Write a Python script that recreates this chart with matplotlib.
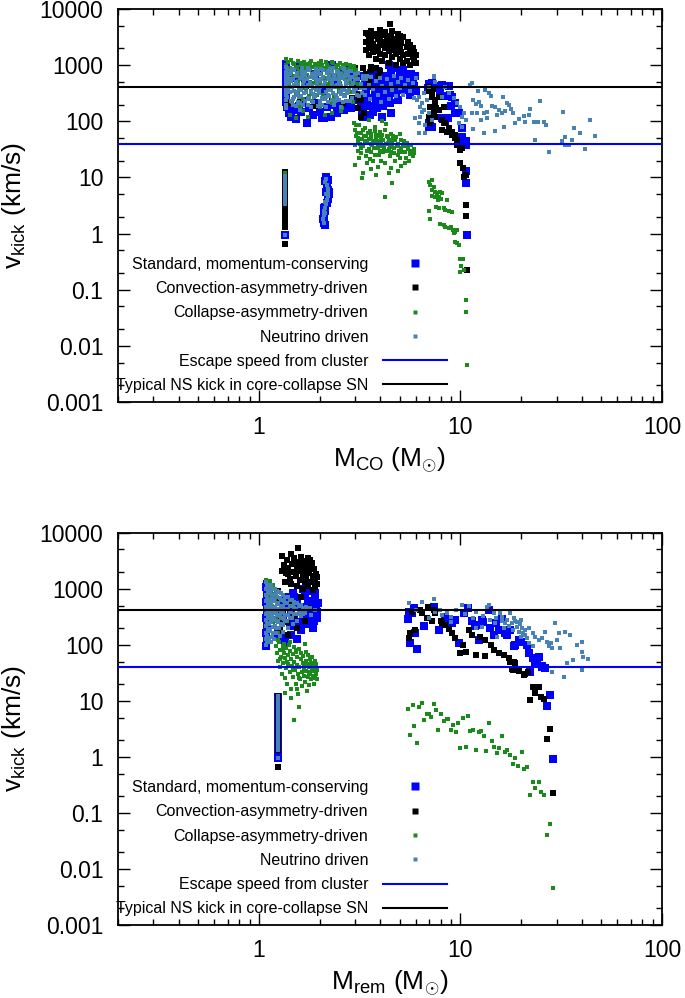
import matplotlib
matplotlib.use('Agg')
import matplotlib.pyplot as plt
from matplotlib.lines import Line2D
from matplotlib.ticker import FixedLocator, LogLocator, NullFormatter, FixedFormatter

plt.rcParams['font.family'] = ['Liberation Sans', 'DejaVu Sans']
plt.rcParams['mathtext.fontset'] = 'custom'
plt.rcParams['mathtext.rm'] = 'Liberation Sans'
plt.rcParams['mathtext.it'] = 'Liberation Sans:italic'
plt.rcParams['mathtext.bf'] = 'Liberation Sans:bold'

# ---------------- data ----------------
series_labels = ["Standard, momentum-conserving", "Convection-asymmetry-driven",
                 "Collapse-asymmetry-driven", "Neutrino driven"]
line_labels = ["Escape speed from cluster", "Typical NS kick in core-collapse SN"]
escape_speed = 40.0
ns_kick = 415.0
x_ticks = [1, 10, 100]
x_ticklabels = ["1", "10", "100"]
y_ticks = [0.001, 0.01, 0.1, 1, 10, 100, 1000, 10000]
y_ticklabels = ["0.001", "0.01", "0.1", "1", "10", "100", "1000", "10000"]

# ---- top panel: x = M_CO, y = v_kick ----
std_co = [
    (2.15, 10.0), (2.12, 8.5), (2.18, 7.0), (2.20, 6.0), (2.22, 5.0), (2.20, 4.2), (2.17, 3.5),
    (2.14, 3.0), (2.12, 2.5), (2.10, 2.1), (2.08, 1.8), (2.10, 1.55), (2.13, 1.40), (2.24, 5.4),
    (2.16, 5.6), (2.10, 2.8), (2.19, 9.0), (1.35, 0.94),
    (1.36, 1050), (1.36, 880), (1.37, 700), (1.36, 520), (1.37, 400), (1.36, 300), (1.37, 220),
    (1.38, 180), (1.41, 140), (1.44, 120), (1.52, 110), (1.50, 160), (1.58, 190), (1.62, 150),
    (1.66, 230), (1.74, 93), (1.78, 170), (1.85, 130), (1.92, 210), (2.00, 150), (2.05, 115),
    (2.11, 115), (2.18, 180), (2.27, 120), (2.34, 200), (2.45, 140), (2.55, 190), (2.63, 160),
    (2.75, 200), (2.85, 170), (2.95, 240), (1.50, 600), (1.70, 450), (1.90, 700), (2.10, 350),
    (2.40, 500), (2.60, 800), (2.80, 650), (1.60, 950), (2.00, 900), (2.30, 1000), (2.70, 950),
    (3.05, 560), (3.10, 420), (3.15, 300), (3.20, 200), (3.25, 150), (3.30, 650), (3.35, 480),
    (3.40, 350), (3.45, 260), (3.50, 190), (3.55, 130), (3.60, 720), (3.65, 560), (3.70, 420),
    (3.75, 310), (3.80, 240), (3.85, 170), (3.90, 800), (3.95, 600), (4.00, 450), (4.05, 340),
    (4.10, 260), (4.15, 190), (4.20, 650), (4.30, 500), (4.35, 380), (4.40, 280), (4.45, 210),
    (4.50, 720), (4.60, 560), (4.70, 420), (4.80, 320), (4.90, 240), (4.95, 600), (5.00, 760),
    (5.10, 470), (5.20, 360), (5.30, 650), (5.40, 520), (5.50, 400), (5.60, 300), (5.70, 700),
    (5.80, 550), (5.90, 430), (6.00, 350), (4.40, 1000), (4.60, 880), (3.30, 120), (4.50, 140),
    (3.70, 150), (5.95, 640), (5.2, 820), (4.1, 120),
    (6.90, 400), (7.00, 470), (7.20, 480), (7.40, 420), (7.90, 340), (8.10, 446), (8.50, 280),
    (8.75, 430), (8.90, 300), (9.00, 190), (9.10, 270), (9.40, 210), (9.40, 140), (9.80, 140),
    (8.70, 114), (8.10, 114), (8.40, 99), (7.20, 81), (6.96, 93), (7.10, 100), (6.96, 80),
    (9.80, 53), (10.2, 75), (10.2, 53), (10.2, 41), (10.6, 44), (10.6, 38),
    (10.7, 12.9), (10.6, 8.0), (10.8, 0.93),
]

conv_co = [
    (1.35, 0.66), (1.35, 1.3), (1.35, 1.45), (1.35, 1.6), (1.35, 1.8), (1.35, 2.0), (1.35, 2.2),
    (1.35, 2.5), (1.35, 2.8), (1.35, 3.1), (1.35, 3.5), (1.35, 3.9), (1.35, 4.4), (1.35, 5.0),
    (1.35, 5.6), (1.35, 6.3), (1.35, 7.0), (1.35, 7.9), (1.35, 8.9), (1.35, 10.0), (1.35, 11.2),
    (1.35, 12.4),
    (1.40, 210), (1.60, 250), (1.90, 190), (2.30, 230), (2.60, 210), (2.90, 260), (3.00, 900),
    (3.05, 600), (3.10, 420), (3.15, 300), (3.20, 240), (3.32, 141), (3.10, 170), (3.13, 240),
    (3.40, 700), (3.50, 500), (3.60, 820), (3.80, 900), (3.20, 120),
    (3.40, 3800), (3.40, 2600), (3.40, 1900), (3.50, 3200), (3.50, 2200), (3.50, 1500),
    (3.60, 4100), (3.60, 2800), (3.60, 2000), (3.70, 2400), (3.70, 1700), (3.70, 3300),
    (3.80, 3600), (3.80, 2100), (3.80, 1300), (3.90, 2900), (3.90, 1800), (4.00, 4300),
    (4.00, 3000), (4.00, 2300), (4.00, 1600), (4.10, 3500), (4.10, 2600), (4.10, 1200),
    (4.20, 3900), (4.20, 2000), (4.20, 1500), (4.30, 3100), (4.30, 2400), (4.46, 5400),
    (4.40, 2800), (4.40, 1800), (4.40, 1100), (4.50, 3400), (4.50, 2200), (4.60, 2600),
    (4.60, 1400), (4.60, 4100), (4.70, 3000), (4.70, 1900), (4.80, 2300), (4.80, 1600),
    (4.80, 1000), (4.90, 2700), (4.90, 3700), (5.00, 2000), (5.00, 1300), (5.00, 3400),
    (5.10, 2500), (5.10, 1700), (5.20, 3200), (5.20, 1500), (5.20, 1100), (5.40, 2100),
    (5.40, 1200), (5.50, 2600), (5.50, 1600), (5.60, 1800), (5.60, 2300), (5.60, 1000),
    (5.80, 2000), (5.80, 1400), (5.90, 1700), (5.90, 1200), (6.00, 1500), (6.00, 1100),
    (3.48, 3700), (3.30, 900), (3.60, 950), (4.0, 800), (3.9, 650),
    (6.96, 417), (7.20, 317), (7.50, 241), (7.10, 183), (7.40, 149), (6.96, 122), (7.10, 92),
    (7.20, 277), (7.50, 211), (7.80, 161), (7.50, 122), (8.10, 106), (8.40, 93), (8.75, 75),
    (9.10, 66), (9.40, 57), (9.60, 47), (10.0, 37), (10.2, 33), (7.60, 170), (7.40, 139),
    (7.80, 277), (8.30, 183), (8.11, 70), (8.60, 66), (9.09, 57), (9.40, 50), (9.60, 38),
    (9.90, 31), (7.00, 350), (7.30, 380),
    (10.0, 17.9), (10.3, 14.6), (10.6, 11.1), (10.4, 10.4), (10.7, 3.2), (10.7, 2.06), (10.8, 0.22),
]

coll_co = [
    (1.35, 4.2), (1.35, 4.8), (1.35, 5.5), (1.35, 6.3), (1.35, 7.2), (1.35, 8.2), (1.35, 9.3),
    (1.35, 10.5), (1.35, 11.8), (1.35, 0.94),
    (1.36, 1300), (1.40, 1150), (1.45, 1250), (1.50, 1050), (1.56, 1200), (1.62, 1000),
    (1.68, 1150), (1.75, 1050), (1.82, 1200), (1.90, 980), (1.98, 1100), (2.06, 1000),
    (2.15, 1150), (2.24, 950), (2.33, 1080), (2.42, 990), (2.52, 1100), (2.62, 950),
    (2.72, 1050), (2.84, 900), (2.95, 980),
    (1.38, 850), (1.44, 760), (1.52, 880), (1.58, 700), (1.66, 820), (1.74, 680), (1.80, 860),
    (1.88, 740), (1.96, 820), (2.04, 700), (2.12, 850), (2.20, 720), (2.30, 800), (2.38, 680),
    (2.48, 840), (2.58, 720), (2.68, 800), (2.78, 700), (2.90, 780), (3.02, 650),
    (1.37, 560), (1.47, 600), (1.57, 520), (1.69, 590), (1.79, 500), (1.91, 580), (2.01, 520),
    (2.14, 600), (2.26, 500), (2.40, 560), (2.53, 490), (2.66, 580), (2.80, 520), (2.98, 480),
    (3.10, 560),
    (1.40, 380), (1.53, 300), (1.64, 400), (1.77, 280), (1.93, 360), (2.08, 290), (2.22, 390),
    (2.37, 270), (2.50, 350), (2.64, 300), (2.85, 330), (3.05, 380), (1.46, 220), (1.60, 190),
    (1.84, 230), (2.02, 180), (2.30, 210), (2.58, 175), (2.92, 220),
    (1.43, 130), (1.52, 115), (1.75, 120), (2.12, 130), (2.30, 140), (2.55, 155), (1.66, 155),
    (1.37, 1000), (1.39, 720), (1.41, 470), (1.43, 900), (1.47, 1100), (1.49, 650), (1.51, 420),
    (1.54, 950), (1.56, 330), (1.59, 780), (1.61, 1080), (1.63, 560), (1.65, 250), (1.67, 960),
    (1.71, 400), (1.73, 870), (1.76, 620), (1.79, 1120), (1.81, 350), (1.83, 930), (1.86, 480),
    (1.89, 1060), (1.92, 640), (1.94, 300), (1.97, 940), (2.00, 440), (2.03, 1180), (2.07, 600),
    (2.10, 900), (2.13, 250), (2.17, 1020), (2.19, 470), (2.23, 800), (2.27, 640), (2.31, 1150),
    (2.35, 430), (2.39, 900), (2.43, 560), (2.46, 1020), (2.51, 400), (2.56, 880), (2.60, 620),
    (2.65, 1000), (2.69, 420), (2.74, 860), (2.79, 600), (2.83, 1000), (2.88, 450), (2.93, 840),
    (2.99, 600), (3.05, 820), (3.10, 460),
    (2.95, 95), (3.00, 70), (3.05, 55), (3.10, 45), (3.00, 38), (3.10, 30), (3.15, 85),
    (3.20, 62), (3.25, 48), (3.30, 36), (3.20, 27), (3.35, 75), (3.40, 55), (3.45, 42),
    (3.50, 32), (3.40, 24), (3.50, 105), (3.55, 68), (3.60, 50), (3.65, 38), (3.60, 28),
    (3.70, 20), (3.75, 80), (3.80, 58), (3.85, 44), (3.90, 33), (3.95, 25), (4.00, 65),
    (4.05, 48), (4.10, 36), (4.15, 28), (4.20, 18), (4.25, 90), (4.30, 55), (4.35, 42),
    (4.40, 32), (4.45, 24), (4.50, 60), (4.55, 46), (4.60, 35), (4.70, 27), (4.75, 20),
    (4.80, 52), (4.90, 40), (4.95, 30), (5.00, 22), (5.10, 47), (5.20, 36), (5.30, 28),
    (5.40, 42), (5.50, 32), (5.60, 26), (5.70, 38), (5.75, 30), (5.80, 24), (5.10, 16),
    (3.00, 17), (3.25, 9.7), (3.60, 14), (3.90, 15.6), (4.20, 4.5), (4.60, 8.0), (4.40, 12),
    (3.30, 12), (3.80, 11), (5.00, 60), (4.10, 100), (3.55, 21), (4.90, 13),
    (3.02, 88), (3.08, 62), (3.12, 50), (3.18, 40), (3.22, 34), (3.28, 70), (3.32, 56),
    (3.38, 45), (3.42, 30), (3.48, 62), (3.52, 48), (3.58, 40), (3.62, 60), (3.68, 45),
    (3.72, 33), (3.78, 68), (3.82, 50), (3.88, 40), (3.92, 56), (3.98, 30), (4.02, 42),
    (4.08, 58), (4.12, 46), (4.18, 34), (4.22, 70), (4.28, 40), (4.32, 30), (4.38, 52),
    (4.42, 44), (4.48, 36), (4.52, 28), (4.58, 40), (4.62, 55), (4.68, 33), (4.72, 46),
    (4.85, 36), (4.92, 25), (5.05, 34), (5.15, 28), (5.25, 44), (5.35, 22), (5.45, 36),
    (5.55, 20), (5.65, 30), (5.85, 32), (3.15, 22), (3.45, 18), (3.75, 25), (4.05, 20),
    (4.50, 15), (5.30, 18), (5.90, 27),
    (6.96, 8.4), (7.23, 9.0), (7.10, 7.3), (7.38, 6.9), (7.23, 6.0), (7.46, 5.6), (7.66, 5.2),
    (7.96, 5.4), (8.11, 5.2), (7.80, 4.5), (7.52, 4.5), (7.23, 4.7), (7.75, 4.0), (8.05, 4.2),
    (7.57, 3.0), (7.86, 2.8), (8.27, 2.9), (8.42, 2.6), (8.59, 4.0), (8.75, 2.5), (9.09, 2.4),
    (6.96, 2.5), (7.10, 1.8), (7.96, 1.5), (8.27, 1.42), (8.42, 1.33), (8.75, 1.24),
    (9.02, 1.33), (9.16, 1.16), (9.45, 1.08), (9.62, 1.16), (9.27, 1.01), (9.38, 0.72),
    (9.62, 0.67), (9.81, 0.625), (10.0, 0.35), (10.3, 0.35), (10.1, 0.26), (9.93, 0.21),
    (10.4, 0.22), (10.7, 0.064), (10.6, 0.040), (10.8, 0.0045),
]

nu_co = [
    (1.35, 3.4), (1.35, 3.9), (1.35, 4.5), (1.35, 5.2), (1.35, 6.0), (1.35, 6.9), (1.35, 8.0),
    (1.35, 9.3), (1.35, 10.5), (1.35, 0.94),
    (2.15, 9.5), (2.13, 8.3), (2.17, 7.2), (2.19, 6.3), (2.21, 5.4), (2.20, 4.7), (2.18, 4.0),
    (2.15, 3.4), (2.13, 2.9), (2.11, 2.5), (2.10, 2.1), (2.09, 1.8), (2.11, 1.55), (2.16, 5.0),
    (2.20, 5.8), (2.14, 3.7), (2.12, 2.3),
    (1.38, 860), (1.50, 830), (1.63, 880), (1.77, 820), (1.92, 870), (2.08, 810), (2.25, 860),
    (2.44, 800), (2.64, 850), (2.86, 780),
    (1.42, 700), (1.55, 720), (1.69, 680), (1.84, 710), (2.00, 690), (2.17, 720), (2.35, 680),
    (2.55, 700), (2.76, 670), (3.00, 690), (3.30, 640),
    (1.37, 590), (1.48, 570), (1.60, 600), (1.73, 560), (1.88, 590), (2.04, 570), (2.21, 600),
    (2.40, 560), (2.60, 590), (2.82, 560), (3.10, 580), (3.40, 560),
    (1.40, 480), (1.52, 500), (1.65, 470), (1.79, 490), (1.95, 470), (2.12, 500), (2.30, 470),
    (2.50, 490), (2.71, 460), (2.94, 480), (3.20, 470), (3.50, 450),
    (1.37, 400), (1.46, 410), (1.58, 390), (1.71, 410), (1.86, 390), (2.02, 410), (2.19, 390),
    (2.38, 410), (2.58, 390), (2.80, 400), (3.05, 380), (3.35, 400),
    (1.42, 330), (1.54, 340), (1.67, 320), (1.82, 340), (1.98, 320), (2.15, 340), (2.33, 320),
    (2.53, 340), (2.75, 320), (2.98, 330), (3.25, 320),
    (1.38, 275), (1.49, 270), (1.61, 285), (1.75, 265), (1.90, 280), (2.06, 265), (2.24, 285),
    (2.44, 265), (2.66, 280), (2.90, 260), (3.15, 280),
    (1.44, 230), (1.56, 225), (1.70, 235), (1.85, 220), (2.01, 235), (2.19, 220), (2.39, 235),
    (2.60, 220), (2.84, 230),
    (1.37, 195), (1.52, 185), (1.66, 195), (1.81, 180), (1.97, 190), (2.15, 180), (2.35, 195),
    (2.56, 180),
    (1.45, 780), (1.70, 770), (1.96, 790), (2.30, 760), (2.70, 770), (1.40, 640), (1.64, 650),
    (1.92, 640), (2.22, 650), (2.50, 640), (2.90, 620), (1.44, 530), (1.68, 540), (1.98, 530),
    (2.30, 540), (2.70, 530), (1.50, 440), (1.76, 445), (2.08, 440), (2.45, 445), (2.90, 430),
    (1.40, 365), (1.62, 360), (1.92, 365), (2.25, 360), (2.65, 365), (1.55, 300), (1.85, 305),
    (2.20, 300), (2.55, 305), (1.48, 250), (1.78, 248), (2.10, 250), (2.50, 245), (1.60, 210),
    (2.00, 210),
    (1.36, 920), (1.36, 760), (1.36, 640), (1.36, 500), (1.36, 430), (1.36, 350), (1.36, 300),
    (1.36, 240), (1.36, 200), (1.36, 170),
    (1.41, 560), (1.46, 870), (1.49, 350), (1.53, 650), (1.57, 450), (1.59, 270), (1.64, 760),
    (1.68, 520), (1.72, 330), (1.76, 880), (1.80, 620), (1.83, 420), (1.87, 270), (1.91, 760),
    (1.95, 540), (1.99, 360), (2.03, 850), (2.07, 630), (2.11, 420), (2.16, 270), (2.20, 800),
    (2.24, 560), (2.28, 380), (2.32, 880), (2.36, 620), (2.41, 300), (2.46, 750), (2.50, 540),
    (2.55, 420), (2.60, 880), (2.63, 280), (2.68, 640), (2.73, 480), (2.78, 350), (2.83, 800),
    (2.88, 620), (2.95, 360), (3.00, 560), (3.08, 300), (3.12, 720), (3.20, 400), (3.28, 560),
    (3.38, 300), (3.45, 650), (1.48, 200), (1.75, 200), (2.05, 195), (2.30, 240), (2.70, 230),
    (1.60, 160),
    (3.60, 620), (3.70, 380), (3.80, 520), (3.90, 290), (4.00, 600), (4.10, 420), (4.20, 330),
    (4.30, 560), (4.40, 250), (4.50, 470), (4.60, 360), (4.70, 640), (4.80, 280), (4.90, 500),
    (5.00, 390), (5.10, 600), (5.20, 300), (5.30, 450), (5.50, 550), (5.60, 350), (5.80, 480),
    (5.90, 260), (6.00, 600), (3.55, 250), (4.05, 220),
    (6.09, 241), (6.33, 183), (6.58, 317), (6.96, 417), (7.37, 629), (7.52, 511), (5.98, 114),
    (6.21, 61), (6.70, 86), (6.96, 139), (7.23, 106), (6.45, 149), (6.83, 241), (8.11, 277),
    (8.75, 317), (8.42, 417), (9.26, 258), (10.0, 183), (10.4, 139), (10.2, 81),
    (7.38, 646), (11.4, 491), (11.1, 446), (12.2, 354), (13.3, 363), (13.9, 326), (14.1, 284),
    (16.2, 269), (17.0, 210), (17.5, 196), (11.6, 241), (12.3, 225), (12.0, 202), (12.6, 188),
    (11.4, 139), (12.1, 143), (13.1, 143), (13.6, 149), (14.4, 188), (14.9, 183), (15.5, 160),
    (15.2, 130), (16.0, 139), (16.7, 156), (18.2, 143), (17.9, 164), (19.6, 109), (20.6, 125),
    (21.8, 130), (22.2, 167), (21.0, 96), (18.7, 92), (23.1, 99), (24.3, 99), (25.9, 96),
    (26.7, 86), (24.9, 231), (32.3, 149), (36.5, 75), (35.8, 47), (33.2, 53), (39.4, 63),
    (44.0, 106), (46.4, 55), (23.4, 47), (14.8, 68), (16.4, 78), (13.1, 61), (11.6, 72),
    (41.7, 32), (27.4, 28), (32.9, 38), (34.5, 38), (31.9, 45), (13.6, 114), (12.6, 106),
    (10.2, 122), (10.6, 106), (9.6, 210), (9.8, 92), (6.21, 276), (6.45, 210), (6.58, 160),
    (6.33, 122), (6.70, 61), (6.21, 92),
]

# ---- bottom panel: x = M_rem, y = v_kick ----
std_rem = [
    (1.25, 1.35), (1.25, 1.6), (1.25, 2.0), (1.25, 2.5), (1.25, 3.1), (1.25, 3.9), (1.25, 4.9),
    (1.25, 6.1), (1.25, 7.6), (1.25, 9.5), (1.25, 11.8), (1.25, 0.94),
    (1.09, 95), (1.10, 120), (1.09, 160), (1.10, 220), (1.09, 300), (1.10, 420), (1.09, 580),
    (1.10, 800), (1.09, 1050), (1.10, 1200),
    (1.35, 700), (1.40, 520), (1.45, 380), (1.50, 280), (1.42, 220), (1.48, 820), (1.55, 640),
    (1.60, 470), (1.65, 350), (1.58, 250), (1.62, 180), (1.70, 760), (1.75, 560), (1.80, 420),
    (1.85, 310), (1.72, 230), (1.90, 680), (1.93, 500), (1.95, 380), (1.88, 270), (1.78, 900),
    (1.65, 1000), (1.52, 560), (1.68, 420), (1.83, 600), (1.90, 820), (1.95, 300), (1.25, 180),
    (1.30, 140), (1.35, 110), (1.22, 150), (1.45, 150), (1.55, 125), (1.28, 400), (1.32, 300),
    (1.85, 200), (1.97, 560), (1.50, 700), (1.30, 600), (1.70, 300),
    (5.50, 285), (5.75, 365), (5.65, 106), (6.07, 83), (5.94, 160), (6.63, 218), (7.38, 480),
    (7.80, 184), (8.43, 318), (9.45, 277), (9.80, 106), (10.4, 365), (10.9, 448), (11.4, 260),
    (12.1, 225), (12.3, 122), (12.8, 277), (13.8, 418), (14.6, 150), (15.5, 184), (16.1, 285),
    (16.7, 160), (17.7, 184), (18.4, 93), (18.7, 100), (19.5, 122), (21.4, 100), (22.8, 57),
    (23.5, 53.6), (24.5, 60), (25.4, 40.8), (26.4, 38), (5.53, 390), (5.85, 448), (8.8, 280),
    (9.1, 240), (11.8, 220), (13.0, 250), (14.0, 200), (15.0, 240), (17.0, 150), (20.0, 110),
    (22.0, 70), (24.0, 58), (22.2, 33), (23.5, 46.8), (25.3, 41.9),
    (27.9, 12.9), (27.0, 8.0), (28.7, 0.93),
]

conv_rem = [
    (1.25, 0.66), (1.25, 1.35), (1.25, 1.5), (1.25, 1.7), (1.25, 1.9), (1.25, 2.1), (1.25, 2.4),
    (1.25, 2.7), (1.25, 3.0), (1.25, 3.4), (1.25, 3.8), (1.25, 4.3), (1.25, 4.8), (1.25, 5.4),
    (1.25, 6.1), (1.25, 6.9), (1.25, 7.8), (1.25, 8.8), (1.25, 9.9), (1.25, 11.1), (1.25, 12.2),
    (1.30, 3800), (1.33, 2600), (1.36, 1900), (1.38, 3200), (1.40, 2300), (1.42, 1500),
    (1.44, 4200), (1.46, 2800), (1.48, 2000), (1.50, 3500), (1.52, 1700), (1.54, 2500),
    (1.56, 5400), (1.57, 3000), (1.59, 2100), (1.60, 1400), (1.62, 3700), (1.64, 2600),
    (1.66, 1800), (1.68, 3100), (1.70, 2200), (1.72, 1500), (1.74, 2800), (1.76, 3500),
    (1.78, 1900), (1.80, 2400), (1.82, 1300), (1.84, 2900), (1.86, 1700), (1.88, 2200),
    (1.90, 1400), (1.92, 1800), (1.94, 1200), (1.95, 1600), (1.45, 1200), (1.55, 1100),
    (1.65, 1000), (1.75, 1100), (1.85, 950), (1.35, 1300), (1.50, 2700), (1.60, 2300),
    (1.70, 1300), (1.80, 3200), (1.40, 1800), (1.30, 2100), (1.90, 1050),
    (1.22, 620), (1.25, 300), (1.28, 180), (1.32, 420), (1.38, 250), (1.45, 560), (1.50, 330),
    (1.55, 200), (1.62, 700), (1.70, 270), (1.25, 900), (1.75, 450), (1.30, 230), (1.40, 150),
    (5.58, 131), (5.75, 390), (5.94, 184), (6.33, 418), (6.46, 365), (6.83, 297), (7.23, 260),
    (7.52, 365), (8.11, 242), (8.43, 226), (8.75, 190), (9.10, 160), (9.45, 130), (10.0, 70.5),
    (10.6, 75), (11.0, 184), (11.4, 150), (11.9, 66), (12.5, 140), (13.3, 62), (13.3, 122),
    (14.1, 100), (14.6, 81), (15.5, 70.5), (16.4, 66), (17.4, 57), (18.4, 50), (18.0, 36.5),
    (19.5, 35.6), (20.6, 29), (6.9, 480), (7.4, 420), (5.6, 165), (8.0, 270), (10.3, 100),
    (17.7, 50), (18.7, 48), (18.2, 35), (19.5, 34), (20.8, 30), (21.6, 33), (22.9, 17.4),
    (24.5, 17.9), (23.5, 13.6), (25.1, 11.9), (26.1, 10.7), (22.1, 10.4), (27.7, 3.2),
    (27.0, 2.06), (28.7, 0.224),
]

coll_rem = [
    (1.25, 1.5), (1.25, 2.2), (1.25, 3.2), (1.25, 4.6), (1.25, 6.6), (1.25, 9.5), (1.25, 12.0),
    (1.25, 0.94),
    (1.08, 1400), (1.10, 1250), (1.12, 1100), (1.15, 950), (1.18, 800), (1.20, 650),
    (1.13, 1350), (1.17, 1150), (1.22, 900), (1.16, 500), (1.20, 400), (1.21, 300), (1.18, 250),
    (1.22, 200), (1.24, 160), (1.14, 700), (1.10, 1000),
    (1.21, 95), (1.23, 70), (1.24, 52), (1.26, 110), (1.27, 82), (1.28, 40), (1.29, 60),
    (1.30, 30), (1.31, 95), (1.32, 48), (1.33, 72), (1.34, 25), (1.35, 58), (1.36, 88),
    (1.37, 38), (1.38, 20), (1.39, 65), (1.40, 46), (1.41, 100), (1.42, 32), (1.43, 78),
    (1.44, 55), (1.45, 16), (1.46, 42), (1.47, 68), (1.48, 27), (1.49, 90), (1.50, 50),
    (1.51, 36), (1.52, 20), (1.53, 75), (1.54, 44), (1.55, 60), (1.56, 30), (1.57, 13),
    (1.58, 85), (1.59, 40), (1.60, 24), (1.61, 55), (1.62, 70), (1.63, 33), (1.64, 18),
    (1.65, 48), (1.66, 62), (1.67, 28), (1.68, 38), (1.69, 105), (1.70, 22), (1.71, 52),
    (1.72, 34), (1.73, 15), (1.74, 45), (1.75, 65), (1.76, 27), (1.77, 40), (1.78, 19),
    (1.79, 56), (1.80, 32), (1.81, 48), (1.82, 24), (1.83, 38), (1.84, 60), (1.85, 28),
    (1.86, 44), (1.87, 20), (1.88, 34), (1.89, 52), (1.90, 26), (1.91, 40), (1.92, 30),
    (1.93, 46), (1.94, 24), (1.95, 35), (1.35, 14), (1.45, 11), (1.55, 16), (1.59, 7.9),
    (1.50, 4.6), (1.25, 120), (1.33, 105), (1.43, 110), (1.28, 55), (1.38, 50), (1.48, 36),
    (1.58, 26), (1.68, 45), (1.78, 30), (1.32, 85), (1.52, 80), (1.72, 75),
    (5.50, 7.1), (5.80, 8.45), (6.26, 7.7), (6.46, 9.0), (7.38, 8.8), (7.60, 6.9), (6.84, 5.8),
    (7.02, 5.8), (7.18, 5.2), (6.63, 4.6), (8.02, 5.7), (8.27, 4.3), (8.53, 4.7), (8.69, 4.7),
    (9.16, 3.7), (9.72, 4.0), (10.3, 4.9), (10.9, 5.3), (5.91, 3.5), (5.63, 2.5), (6.12, 1.8),
    (7.78, 3.07), (8.95, 3.07), (9.48, 2.75), (11.2, 2.9), (11.6, 3.0), (12.3, 2.75),
    (12.7, 2.9), (13.1, 2.4), (13.9, 4.0), (14.3, 1.93), (14.7, 1.52), (16.1, 2.37),
    (10.0, 1.41), (10.7, 1.5), (11.9, 1.33), (13.4, 1.26), (15.1, 1.16), (15.6, 1.41),
    (16.6, 1.23), (17.1, 1.33), (17.7, 1.07), (18.7, 0.97), (20.1, 1.2), (18.2, 0.73),
    (19.4, 0.68), (20.7, 0.61), (21.4, 0.67), (22.8, 0.35), (24.4, 0.35), (23.5, 0.275),
    (25.2, 0.234), (26.0, 0.212), (22.1, 0.206), (27.7, 0.064), (26.9, 0.041), (28.7, 0.0045),
]

nu_rem = [
    (1.25, 1.35), (1.25, 1.55), (1.25, 1.8), (1.25, 2.1), (1.25, 2.4), (1.25, 2.8), (1.25, 3.2),
    (1.25, 3.7), (1.25, 4.3), (1.25, 5.0), (1.25, 5.8), (1.25, 6.7), (1.25, 7.8), (1.25, 9.0),
    (1.25, 10.4), (1.25, 12.0), (1.25, 0.94),
    (1.09, 1300), (1.10, 1150), (1.08, 1000), (1.11, 880), (1.09, 770), (1.10, 680), (1.08, 600),
    (1.11, 530), (1.09, 470), (1.10, 410), (1.08, 360), (1.11, 320), (1.09, 280), (1.10, 245),
    (1.08, 215), (1.11, 190), (1.09, 165), (1.10, 145), (1.08, 125), (1.10, 110), (1.09, 97),
    (1.15, 1150), (1.14, 900), (1.16, 700), (1.15, 550), (1.14, 430), (1.16, 330), (1.15, 250),
    (1.14, 190), (1.16, 140), (1.15, 110),
    (1.20, 1000), (1.21, 800), (1.19, 620), (1.20, 480), (1.21, 380), (1.19, 290), (1.20, 220),
    (1.21, 165), (1.19, 125),
    (1.26, 880), (1.27, 690), (1.25, 540), (1.26, 420), (1.27, 330), (1.25, 255), (1.26, 195),
    (1.27, 145),
    (1.32, 780), (1.33, 610), (1.31, 480), (1.32, 370), (1.33, 290), (1.31, 225), (1.32, 170),
    (1.39, 700), (1.38, 550), (1.40, 430), (1.39, 340), (1.38, 260), (1.40, 200),
    (1.46, 620), (1.47, 490), (1.45, 380), (1.46, 300), (1.47, 230),
    (1.54, 560), (1.53, 440), (1.55, 350), (1.54, 270),
    (1.62, 520), (1.63, 400), (1.61, 320), (1.71, 480), (1.70, 370), (1.80, 450), (1.81, 340),
    (1.90, 420),
    (1.12, 1050), (1.12, 820), (1.12, 640), (1.12, 500), (1.12, 390), (1.12, 300), (1.12, 230),
    (1.12, 175), (1.12, 130), (1.17, 980), (1.17, 780), (1.17, 600), (1.17, 470), (1.17, 370),
    (1.17, 280), (1.17, 210), (1.17, 160), (1.23, 900), (1.23, 720), (1.23, 560), (1.23, 440),
    (1.23, 340), (1.23, 260), (1.23, 200), (1.29, 820), (1.29, 640), (1.29, 500), (1.29, 390),
    (1.29, 300), (1.29, 235), (1.35, 720), (1.35, 560), (1.35, 440), (1.35, 340), (1.35, 265),
    (1.42, 640), (1.42, 500), (1.42, 390), (1.42, 300), (1.50, 580), (1.50, 460), (1.50, 360),
    (1.58, 500), (1.58, 380), (1.66, 460), (1.66, 350),
    (5.53, 550), (6.41, 589), (7.38, 647), (7.52, 390), (7.96, 418), (8.59, 365), (8.95, 318),
    (8.11, 340), (10.2, 513), (11.0, 491), (13.8, 513), (13.6, 480), (14.6, 365), (15.8, 365),
    (16.1, 318), (17.7, 375), (16.7, 242), (18.0, 242), (18.7, 260), (19.1, 211), (19.5, 172),
    (20.3, 197), (19.9, 140), (21.0, 150), (21.0, 184), (21.9, 106), (22.8, 93), (23.5, 140),
    (24.5, 122), (25.4, 130), (26.4, 172), (26.9, 114), (27.5, 93), (28.0, 106), (28.5, 87),
    (29.6, 242), (30.2, 122), (30.8, 160), (31.3, 87), (33.2, 172), (33.8, 46.8), (35.0, 150),
    (36.3, 53.6), (37.7, 100), (40.1, 114), (40.1, 75), (40.4, 61.5), (43.0, 55), (40.1, 35.6),
    (32.6, 27), (28.5, 33), (12.8, 211), (11.9, 197), (14.9, 242), (15.2, 140),
    (15.0, 300), (16.0, 260), (17.0, 280), (17.5, 220), (18.5, 300), (19.0, 250), (19.8, 230),
    (20.5, 160), (21.5, 130), (16.5, 200), (18.2, 180), (14.0, 280), (13.0, 330), (12.0, 380),
    (9.5, 420), (10.5, 350), (11.5, 300), (20.0, 280), (22.0, 200), (23.0, 160), (6.0, 420),
    (7.0, 300), (9.0, 250),
]

# ---------------- styling ----------------
c_std = '#0000ff'
c_conv = '#000000'
c_coll = '#1a8a1a'
c_nu = '#4682b4'
styles = [
    dict(color=c_std, s=26, ms=5.2),
    dict(color=c_conv, s=17, ms=4.2),
    dict(color=c_coll, s=12, ms=3.4),
    dict(color=c_nu, s=6.5, ms=2.3),
]

fig = plt.figure(figsize=(6.85, 9.98), dpi=100)
ax_top = fig.add_axes([0.17226, 0.59749, 0.79416, 0.39319])
ax_bot = fig.add_axes([0.17226, 0.07315, 0.79416, 0.39319])

panels = [
    (ax_top, [std_co, conv_co, coll_co, nu_co], r'M$_{\mathregular{CO}}$ (M$_{\odot}$)'),
    (ax_bot, [std_rem, conv_rem, coll_rem, nu_rem], r'M$_{\mathregular{rem}}$ (M$_{\odot}$)'),
]

for ax, data, xlabel in panels:
    ax.set_xscale('log')
    ax.set_yscale('log')
    for pts, st, z in zip(data, styles, [2, 3, 4, 5]):
        xs = [p[0] for p in pts]
        ys = [p[1] for p in pts]
        ax.scatter(xs, ys, marker='s', s=st['s'], c=st['color'], linewidths=0, zorder=z)
    ax.axhline(escape_speed, color='#0000ff', lw=1.5, zorder=6)
    ax.axhline(ns_kick, color='black', lw=1.5, zorder=6)
    ax.set_xlim(0.2, 100)
    ax.set_ylim(0.001, 10000)

    ax.xaxis.set_major_locator(FixedLocator(x_ticks))
    ax.xaxis.set_major_formatter(FixedFormatter(x_ticklabels))
    ax.xaxis.set_minor_locator(LogLocator(base=10, subs=[2, 3, 4, 5, 6, 7, 8, 9], numticks=20))
    ax.xaxis.set_minor_formatter(NullFormatter())
    ax.yaxis.set_major_locator(FixedLocator(y_ticks))
    ax.yaxis.set_major_formatter(FixedFormatter(y_ticklabels))
    ax.yaxis.set_minor_locator(LogLocator(base=10, subs=[2, 5], numticks=20))
    ax.yaxis.set_minor_formatter(NullFormatter())
    ax.tick_params(which='both', direction='in', top=True, right=True, labelsize=16.5, width=1.0)
    ax.tick_params(which='major', length=8.6)
    ax.tick_params(axis='x', which='major', pad=10)
    ax.tick_params(axis='y', which='major', pad=10.5)
    ax.tick_params(which='minor', length=4.6)
    for sp in ax.spines.values():
        sp.set_linewidth(1.3)

    ax.set_ylabel(r'v$_{\mathregular{kick}}$ (km/s)', fontsize=19)
    ax.yaxis.set_label_coords(-0.165, 0.5)
    ax.set_xlabel(xlabel, fontsize=19)
    ax.xaxis.set_label_coords(0.5, -0.112)

    handles = [Line2D([], [], ls='none', marker='s', ms=st['ms'], mfc=st['color'], mec='none')
               for st in styles]
    handles += [Line2D([], [], color='#0000ff', lw=1.5), Line2D([], [], color='black', lw=1.5)]
    leg = ax.legend(handles, series_labels + line_labels, loc='lower right',
                    bbox_to_anchor=(0.605, 0.022), frameon=False, markerfirst=False,
                    fontsize=11.5, handlelength=4.0, handletextpad=0.95, labelspacing=0.58,
                    borderpad=0, borderaxespad=0)
    leg.set_zorder(10)

fig.savefig('out.png', dpi=100)
